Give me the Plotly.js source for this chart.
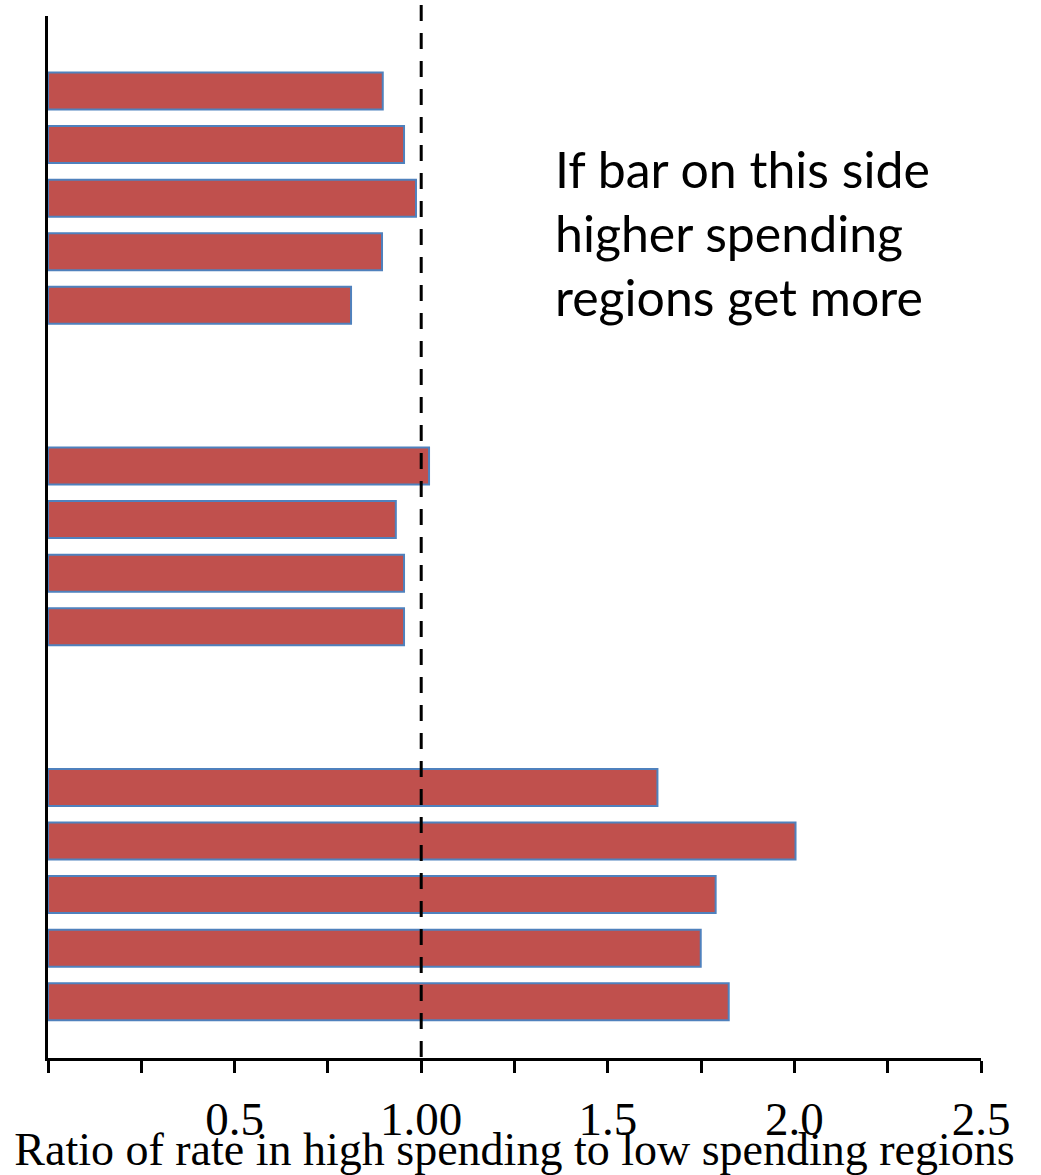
<!DOCTYPE html>
<html>
<head>
<meta charset="utf-8">
<script src="https://cdn.plot.ly/plotly-3.0.1.min.js"></script>
<style>
  html, body { margin: 0; padding: 0; background: #ffffff; }
  #chart { width: 1041px; height: 1175px; }
</style>
</head>
<body>
<div id="chart"></div>
<script>
// Row identifiers (top to bottom); "gap" rows are empty spacer slots
const rowOrder = ['A1','A2','A3','A4','A5','gap1','gap2','B1','B2','B3','B4','gap3','gap4','C1','C2','C3','C4','C5'];
const barRows = ['A1','A2','A3','A4','A5','B1','B2','B3','B4','C1','C2','C3','C4','C5'];
// Ratio of rate in high spending to low spending regions
const ratios = [0.897, 0.954, 0.986, 0.895, 0.812, 1.021, 0.932, 0.954, 0.954, 1.633, 2.003, 1.789, 1.749, 1.824];
// X axis ticks
const tickValues = [0, 0.25, 0.5, 0.75, 1.0, 1.25, 1.5, 1.75, 2.0, 2.25, 2.5];
const tickLabels = ['', '', '0.5', '', '1.00', '', '1.5', '', '2.0', '', '2.5'];
const referenceRatio = 1.0;
const noteLines = ['If bar on this side', 'higher spending', 'regions get more'];
const axisTitle = 'Ratio of rate in high spending to low spending regions';

const trace = {
  type: 'bar',
  orientation: 'h',
  x: ratios,
  y: barRows,
  width: 0.69,
  marker: { color: '#C0504D', line: { color: '#4F81BD', width: 2 } },
  hoverinfo: 'x'
};

const noteY = [0.8532, 0.7917, 0.7303];
const annotations = noteLines.map((t, i) => ({
  text: t,
  xref: 'x', yref: 'paper',
  x: 1.353, y: noteY[i],
  xanchor: 'left', yanchor: 'middle',
  showarrow: false,
  font: { family: 'Lato, Carlito, Calibri, sans-serif', size: 50, color: '#000000' }
}));

const layout = {
  width: 1041,
  height: 1175,
  margin: { l: 48, r: 60, t: 16, b: 117 },
  paper_bgcolor: '#ffffff',
  plot_bgcolor: '#ffffff',
  showlegend: false,
  bargap: 0,
  xaxis: {
    range: [0, 2.5],
    tickmode: 'array',
    tickvals: tickValues,
    ticktext: tickLabels,
    ticks: 'outside',
    ticklen: 12,
    tickwidth: 3,
    tickcolor: '#000000',
    showline: true,
    linewidth: 3,
    linecolor: '#000000',
    showgrid: false,
    zeroline: false,
    ticklabelstandoff: 6,
    tickfont: { family: '"Liberation Serif", "Times New Roman", serif', size: 47, color: '#000000' },
    title: {
      text: axisTitle,
      standoff: 3,
      font: { family: '"Liberation Serif", "Times New Roman", serif', size: 46, color: '#000000' }
    },
    automargin: false
  },
  yaxis: {
    type: 'category',
    categoryorder: 'array',
    categoryarray: rowOrder,
    range: [18.05, -1.40],
    showticklabels: false,
    ticks: '',
    showline: true,
    linewidth: 3,
    linecolor: '#000000',
    showgrid: false,
    zeroline: false,
    automargin: false
  },
  shapes: [{
    type: 'line',
    xref: 'x', yref: 'paper',
    x0: referenceRatio, x1: referenceRatio,
    y0: 1.0106, y1: 0,
    line: { color: '#000000', width: 3, dash: '16px,12px' },
    layer: 'above'
  }],
  annotations: annotations
};

Plotly.newPlot('chart', [trace], layout, { displayModeBar: false, staticPlot: true });
</script>
</body>
</html>
